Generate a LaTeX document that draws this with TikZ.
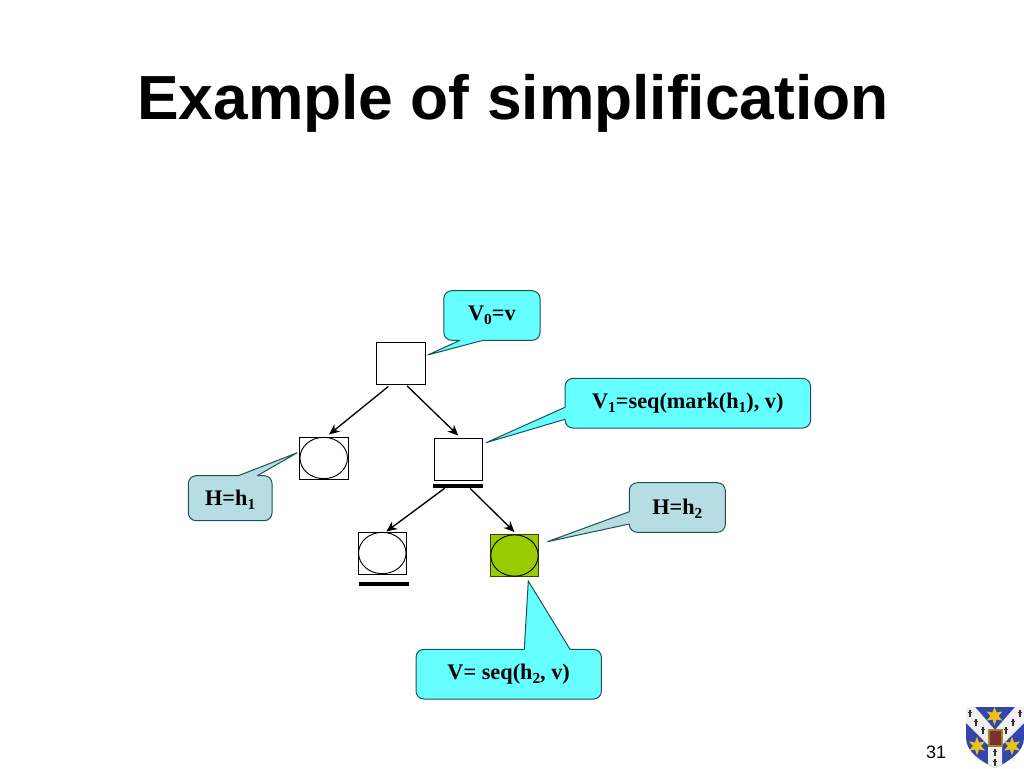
\documentclass[tikz,border=0pt]{standalone}
\usepackage{fontspec}
\setmainfont{Liberation Serif}
\setsansfont{Liberation Sans}
\usetikzlibrary{arrows.meta,shapes.geometric}
\definecolor{callcyan}{HTML}{66FFFF}
\definecolor{callblue}{HTML}{B5DDE3}
\definecolor{calledge}{HTML}{1F5058}
\definecolor{leaf}{HTML}{99CC00}
\definecolor{crestblue}{HTML}{3344AA}
\definecolor{creststar}{HTML}{E8C020}
\definecolor{crestred}{HTML}{7A2F35}
\newcommand{\lowsub}[1]{\raisebox{-0.2em}{\fontsize{11.5}{12}\selectfont #1}}
\tikzset{
  x=0.75pt,y=-0.75pt,
  treebox/.style={draw=black,line width=0.7pt,fill=white,minimum width=36.4pt,minimum height=31.5pt,inner sep=0pt},
  treeoval/.style={ellipse,draw=black,line width=0.7pt,minimum width=35.6pt,minimum height=31pt,inner sep=0pt},
  treearrow/.style={line width=1pt,-{Stealth[length=8pt,width=7pt]}},
  markbar/.style={draw=none,fill=black,minimum width=37pt,minimum height=3pt,inner sep=0pt},
  callbox/.style={draw=calledge,line width=0.75pt,rounded corners=6pt,inner sep=0pt,
    font=\bfseries\fontsize{16.7}{20}\selectfont,text=black,text height=11pt,text depth=3.5pt},
  lowtext/.style={text height=11pt,text depth=0.5pt},
  calltail/.style={draw=calledge,line width=0.75pt,line join=miter},
  title/.style={font=\sffamily\bfseries\fontsize{46.75}{50}\selectfont,inner sep=0pt,anchor=base west},
  pageno/.style={font=\sffamily\fontsize{13.5}{16}\selectfont,inner sep=0pt},
  creststarshape/.style={star,star points=6,star point ratio=2.3,fill=creststar,draw=none,minimum size=14pt,inner sep=0pt},
  erminebody/.style={fill=black!80,draw=none}
}
\newcommand{\erminemark}[2]{\fill[erminebody] (#1-0.7,#2-3) rectangle (#1+0.7,#2+4); \fill[erminebody] (#1-2,#2-1) rectangle (#1+2,#2+0.4);}
\begin{document}
\begin{tikzpicture}
\useasboundingbox (0,0) rectangle (1024,768);
\fill[white] (0,0) rectangle (1024,768);

\node[title] (heading) at (137,119.5) {Example of simplification};

% tree boxes
\node[treebox] (root) at (401,363) {};
\node[treebox] (lbox) at (323.7,458) {};
\node[treeoval] (loval) at (323.7,458) {};
\node[treebox] (mbox) at (458.3,459) {};
\node[markbar] (mbar) at (458,486) {};
\node[treebox] (bbox) at (382.3,553) {};
\node[treeoval] (boval) at (382.3,553) {};
\node[markbar] (bbar) at (384,584) {};
\node[treebox,fill=leaf,draw=black!65!leaf] (gbox) at (514.5,555.5) {};
\node[treeoval] (goval) at (514.5,555.5) {};

% connectors
\draw[treearrow] ([xshift=-9.5pt,yshift=-1.5pt]root.south) -- ([xshift=4pt,yshift=1.5pt]lbox.north);
\draw[treearrow] ([xshift=4.5pt,yshift=-1pt]root.south) -- ([yshift=1.5pt]mbox.north);
\draw[treearrow] ([xshift=-10pt]mbar.south) -- ([xshift=3pt]bbox.north);
\draw[treearrow] ([xshift=9pt]mbar.south) -- ([yshift=1.5pt]gbox.north);

% callouts
\node[callbox,fill=callcyan,minimum width=72.2pt,minimum height=37.2pt] (v0) at (491.9,315.5) {V\lowsub{0}=v};
\fill[callcyan] (460,338) -- (460,340.3) -- (427.7,355) -- (483,340.3) -- (483,338) -- cycle;
\draw[calltail] (460,340.3) -- (427.7,355) -- (483,340.3);

\node[callbox,fill=callcyan,minimum width=184.1pt,minimum height=37.3pt] (v1) at (687.8,403.2) {V\lowsub{1}=seq(mark(h\lowsub{1}), v)};
\fill[callcyan] (567,407.3) -- (565,407.3) -- (486,442.7) -- (565,419.3) -- (567,419.3) -- cycle;
\draw[calltail] (565,407.3) -- (486,442.7) -- (565,419.3);

\node[callbox,lowtext,fill=callblue,minimum width=62.8pt,minimum height=33.8pt] (h1) at (230.2,498.2) {H=h\lowsub{1}};
\fill[callblue] (238.3,478) -- (238.3,475.7) -- (297.3,452.7) -- (257.3,475.7) -- (257.3,478) -- cycle;
\draw[calltail] (238.3,475.7) -- (297.3,452.7) -- (257.3,475.7);

\node[callbox,lowtext,fill=callblue,minimum width=72pt,minimum height=37.2pt] (h2) at (677.3,507.5) {H=h\lowsub{2}};
\fill[callblue] (631.3,511.7) -- (629.3,511.7) -- (547.3,541.7) -- (629.3,524) -- (631.3,524) -- cycle;
\draw[calltail] (629.3,511.7) -- (547.3,541.7) -- (629.3,524);

\node[callbox,fill=callcyan,minimum width=139pt,minimum height=37.3pt] (vs) at (508.7,674.2) {V= seq(h\lowsub{2}, v)};
\fill[callcyan] (524.3,651.5) -- (524.3,649.3) -- (528.3,581) -- (570,649.3) -- (570,651.5) -- cycle;
\draw[calltail] (524.3,649.3) -- (528.3,581) -- (570,649.3);

\node[pageno] (pg) at (936,752) {31};

% crest
\begin{scope}
\clip (966,707) -- (1024,707) -- (1024,738) .. controls (1024,752) and (1008,762) .. (995,768) .. controls (982,762) and (966,752) .. (966,738) -- cycle;
\fill[crestblue] (966,707) rectangle (1024,768);
\fill[white!94!black] (966,707) -- (975,707) -- (995,730) -- (1015,707) -- (1024,707) -- (1024,723) -- (1002,745) -- (1002,768) -- (988,768) -- (988,745) -- (966,723) -- cycle;
\end{scope}
\node[creststarshape] (s1) at (994.5,716) {};
\node[creststarshape] (s2) at (977,746) {};
\node[creststarshape] (s3) at (1012,746) {};
\fill[creststar!70!black] (987.5,728.5) rectangle (1003,747);
\fill[crestred] (989.5,731) rectangle (1001,745);
\erminemark{970}{713}
\erminemark{976}{722}
\erminemark{983}{730}
\erminemark{1020}{713}
\erminemark{1013}{722}
\erminemark{1006}{730}
\erminemark{995}{752}
\erminemark{995}{762}
\end{tikzpicture}
\end{document}
